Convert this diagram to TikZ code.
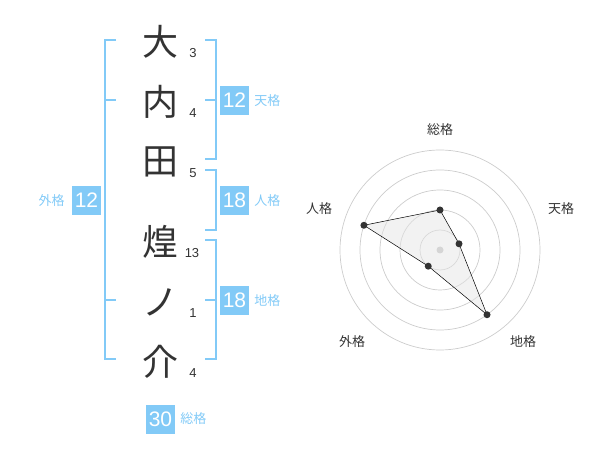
\documentclass[tikz,border=0pt]{standalone}
\usepackage{fontspec}
\setmainfont{Liberation Sans}
\newfontfamily\jpfont{Noto Sans CJK JP}
\usetikzlibrary{positioning}
\definecolor{kakublue}{HTML}{82CAF7}
\definecolor{inkgray}{HTML}{333333}

\begin{document}
\begin{tikzpicture}[x=1pt,y=1pt]
 	\tikzstyle{every node}+=[inner sep=0pt]
 	\tikzstyle{kanji}=[font=\jpfont\fontsize{36}{36}\selectfont, text=inkgray]
 	\tikzstyle{kakusu}=[font=\fontsize{13}{13}\selectfont, text=inkgray]
 	\tikzstyle{bracket}=[draw=kakublue, line width=2pt]
 	\tikzstyle{kakubox}=[fill=kakublue, minimum size=29pt, text=white, font=\fontsize{21}{21}\selectfont]
 	\tikzstyle{kakuname}=[text=kakublue, font=\jpfont\fontsize{13}{13}\selectfont]
 	\tikzstyle{ring}=[draw=gray!40, line width=0.7pt]
 	\tikzstyle{axisname}=[text=inkgray, font=\jpfont\fontsize{13}{13}\selectfont]
 	\tikzstyle{dot}=[circle, fill=inkgray, minimum size=7pt]
 	\useasboundingbox (0,0) rectangle (600,-470);
 	% name
 	\node [kanji] (c1) at (160,-42) {大};
 	\node [kanji] (c2) at (160,-102) {内};
 	\node [kanji] (c3) at (160,-162) {田};
 	\node [kanji] (c4) at (160,-242) {煌};
 	\node [kanji] (c5) at (160,-302) {ノ};
 	\node [kanji] (c6) at (160,-362) {介};
 	\node [kakusu] (n1) at (193,-53) {3};
 	\node [kakusu] (n2) at (193,-113) {4};
 	\node [kakusu] (n3) at (193,-173) {5};
 	\node [kakusu] (n4) at (192,-253) {13};
 	\node [kakusu] (n5) at (193,-313) {1};
 	\node [kakusu] (n6) at (193,-373) {4};
 	% brackets
 	\draw [bracket] (116,-40) -- (104.5,-40) -- (104.5,-359) -- (116,-359);
 	\draw [bracket] (104.5,-100) -- (116,-100);
 	\draw [bracket] (104.5,-300) -- (116,-300);
 	\draw [bracket] (205,-40) -- (215.5,-40) -- (215.5,-159) -- (205,-159);
 	\draw [bracket] (205,-100) -- (215.5,-100);
 	\draw [bracket] (205,-170) -- (215.5,-170) -- (215.5,-230) -- (205,-230);
 	\draw [bracket] (205,-240) -- (215.5,-240) -- (215.5,-359) -- (205,-359);
 	\draw [bracket] (205,-300) -- (215.5,-300);
 	% kaku values
 	\node [kakubox] (ten) at (234.5,-100.5) {12};
 	\node [kakuname, right=5pt of ten] {天格};
 	\node [kakubox] (jin) at (234.5,-200.5) {18};
 	\node [kakuname, right=5pt of jin] {人格};
 	\node [kakubox] (chi) at (234.5,-300.5) {18};
 	\node [kakuname, right=5pt of chi] {地格};
 	\node [kakubox] (gai) at (86.5,-200.5) {12};
 	\node [kakuname, left=7pt of gai] {外格};
 	\node [kakubox] (so) at (160.5,-419) {30};
 	\node [kakuname, right=5pt of so] {総格};
 	% radar
 	\begin{scope}[shift={(440,-250)}]
 	\foreach \r in {20,40,...,100}
 		\draw [ring] (0,0) circle (\r);
 	\fill [gray!45] (0,0) circle (3.5);
 	\coordinate (pso) at (90:40);
 	\coordinate (pten) at (18:20);
 	\coordinate (pchi) at (-54:80);
 	\coordinate (pgai) at (-126:20);
 	\coordinate (pjin) at (162:80);
 	\filldraw [fill=gray!20, fill opacity=0.5, draw=black, line width=0.5pt] (pso) -- (pten) -- (pchi) -- (pgai) -- (pjin) -- cycle;
 	\foreach \p in {pso,pten,pchi,pgai,pjin}
 		\node [dot] at (\p) {};
 	\end{scope}
 	\node [axisname] at (440,-130) {総格};
 	\node [axisname] at (561,-209) {天格};
 	\node [axisname] at (523,-342) {地格};
 	\node [axisname] at (352,-342) {外格};
 	\node [axisname] at (319,-209) {人格};
 	\end{tikzpicture}
\end{document}
